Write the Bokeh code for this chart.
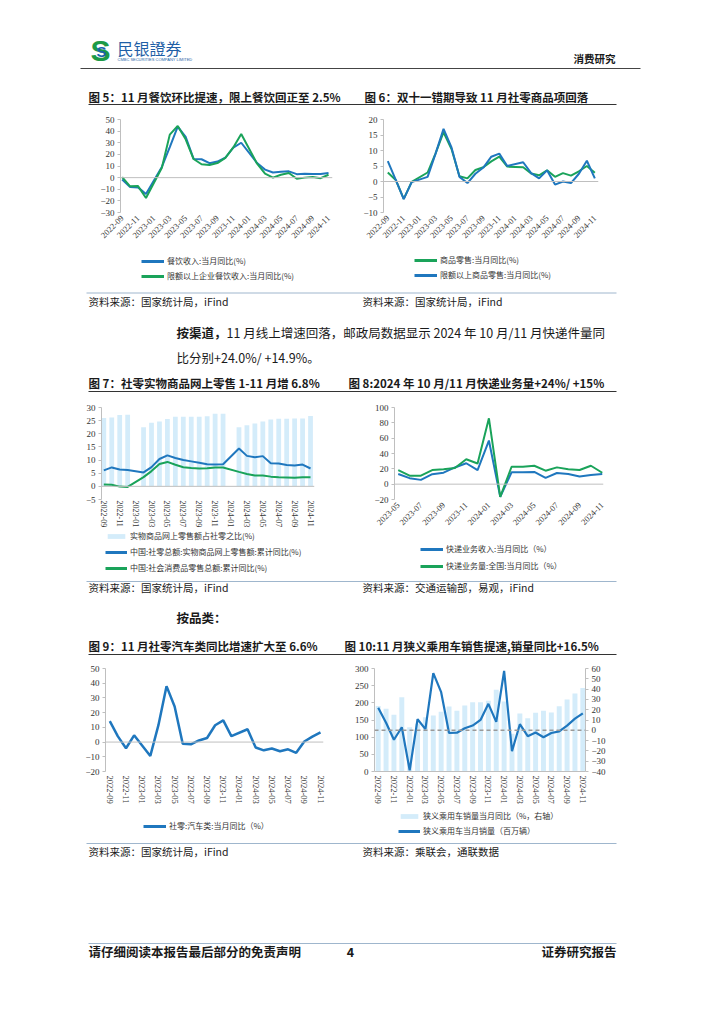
import math
from bokeh.plotting import figure
from bokeh.layouts import column, row
from bokeh.models import (Range1d, Label, Span, Legend, LegendItem, LinearAxis,
                          FixedTicker)
from bokeh.embed import file_html
from bokeh.resources import INLINE

CJK = "Noto Sans CJK SC"
SERIF = "Liberation Serif"
BLUE = "#1f77be"
GREEN = "#1aa35a"
BAR = "#d4ecfa"
AXIS = "#bfbfbf"
SEP = "#9fb6cd"

# ---------------- data ----------------
months27 = ["2022-09", "2022-10", "2022-11", "2022-12", "2023-01", "2023-02", "2023-03",
            "2023-04", "2023-05", "2023-06", "2023-07", "2023-08", "2023-09", "2023-10",
            "2023-11", "2023-12", "2024-01", "2024-02", "2024-03", "2024-04", "2024-05",
            "2024-06", "2024-07", "2024-08", "2024-09", "2024-10", "2024-11"]
months19 = ["2023-05", "2023-06", "2023-07", "2023-08", "2023-09", "2023-10", "2023-11",
            "2023-12", "2024-01", "2024-02", "2024-03", "2024-04", "2024-05", "2024-06",
            "2024-07", "2024-08", "2024-09", "2024-10", "2024-11"]

# Fig 5
catering_all = [-1.7, -8.1, -8.4, -14.1, None, 9.2, 26.3, 43.8, 35.1, 16.1, 15.8, 12.4, 13.8,
                17.1, 25.8, 30.0, None, 12.5, 6.9, 4.4, 5.0, 5.4, 3.0, 3.3, 3.1, 3.2, 4.0]
catering_above = [0.5, -7.5, -7.3, -17.5, None, 8.5, 37.0, 44.5, 33.0, 16.0, 11.5, 10.8, 12.5,
                  17.0, 26.0, 37.5, None, 12.0, 3.5, 0.0, 2.5, 4.0, -1.0, 0.0, 0.5, -0.5, 2.5]
# Fig 6
goods_retail = [2.9, 0.5, -5.6, -0.1, None, 2.9, 9.1, 15.9, 10.5, 1.7, 1.0, 3.7, 4.6, 6.5,
                8.0, 4.8, None, 4.6, 2.6, 2.0, 3.6, 1.5, 2.7, 1.9, 3.3, 5.0, 2.8]
goods_above = [6.6, 0.5, -5.7, -0.2, None, 1.5, 9.0, 17.0, 11.0, 1.5, -0.5, 2.5, 4.5, 8.0,
               9.0, 5.0, None, 6.2, 2.7, 1.0, 3.6, -1.0, 0.0, -0.5, 2.5, 6.7, 1.0]
# Fig 7
online_share = [26.0, 26.2, 27.1, 27.2, None, 22.5, 24.2, 24.7, 25.6, 26.5, 26.5, 26.5, 26.5,
                26.7, 27.6, 27.6, None, 22.5, 23.2, 23.9, 24.7, 25.4, 25.7, 25.7, 25.8, 25.8, 26.8]
online_growth = [6.1, 7.2, 6.4, 6.2, None, 5.3, 7.3, 10.4, 11.8, 10.8, 10.0, 9.5, 9.0, 8.4,
                 8.3, 8.4, None, 14.4, 11.6, 11.1, 11.5, 8.8, 8.7, 8.1, 7.9, 8.3, 6.8]
retail_cum = [0.7, 0.6, -0.1, -0.2, None, 3.5, 5.8, 8.5, 9.3, 8.2, 7.3, 7.0, 6.8, 6.9,
              7.2, 7.2, None, 5.5, 4.7, 4.1, 4.1, 3.7, 3.5, 3.4, 3.3, 3.5, 3.5]
# Fig 8
express_rev = [13.3, 7.8, 5.6, 13.0, 15.0, 21.8, 27.3, 18.4, 56.9, -16.6, 15.5, 15.5, 16.0,
               8.2, 14.6, 13.3, 9.9, 12.0, 13.3]
express_vol = [18.4, 11.1, 11.1, 18.4, 19.6, 21.0, 32.5, 27.0, 85.9, -16.6, 22.7, 22.7, 24.0,
               17.6, 21.9, 19.6, 18.4, 24.0, 14.9]
# Fig 9
auto_retail = [14.2, 3.9, -4.2, 4.6, None, -9.4, 11.5, 38.0, 24.2, -1.1, -1.5, 1.1, 2.8, 11.4,
               14.7, 4.0, None, 8.7, -3.7, -5.6, -4.4, -6.2, -4.9, -7.3, 0.4, 3.7, 6.6]
# Fig 10
pv_sales = [191, 183, 165, 216, 129, 139, 158, 163, 174, 189, 177, 192, 202, 202, 206, 238,
            204, 110, 169, 155, 171, 177, 172, 190, 210, 227, 243]
pv_yoy = [21.8, 7.3, -9.2, 3.0, -38.9, 10.7, 1.1, 55.5, 37.0, -2.6, -2.3, 2.0, 4.6, 10.1, 25.7,
          8.2, 57.6, -20.3, 5.9, -5.7, -2.1, -6.7, -2.6, -1.0, 4.5, 11.3, 16.5]


def valid(ys):
    xs = [i for i, v in enumerate(ys) if v is not None]
    return xs, [ys[i] for i in xs]


def style_y(ax, fs="9px"):
    ax.axis_line_color = AXIS
    ax.major_tick_line_color = AXIS
    ax.major_tick_out = 3
    ax.major_tick_in = 0
    ax.minor_tick_line_color = None
    ax.major_label_standoff = 3
    ax.major_label_text_font = SERIF
    ax.major_label_text_font_size = fs
    ax.major_label_text_color = "#333333"


def make_chart(W, H, bl, br, bt, bb, xr, yr, yticks, xlabels, orient, xstand=4,
               xfs="8.5px", step=2):
    p = figure(width=W, height=H, x_range=Range1d(*xr), y_range=Range1d(*yr),
               output_backend="svg", toolbar_location=None,
               min_border_left=bl, min_border_right=br, min_border_top=bt, min_border_bottom=bb)
    p.outline_line_color = None
    p.grid.visible = False
    p.border_fill_color = "white"
    yax = p.yaxis[0]
    yax.ticker = FixedTicker(ticks=yticks)
    style_y(yax)
    xticks = list(range(0, len(xlabels), step))
    xax = p.xaxis[0]
    xax.ticker = FixedTicker(ticks=xticks)
    xax.major_label_overrides = {t: xlabels[t] for t in xticks}
    xax.major_label_orientation = orient
    xax.axis_line_color = None
    xax.major_tick_line_color = None
    xax.major_tick_out = 0
    xax.major_tick_in = 0
    xax.minor_tick_line_color = None
    xax.major_label_standoff = xstand
    xax.major_label_text_font = SERIF
    xax.major_label_text_font_size = xfs
    xax.major_label_text_color = "#333333"
    return p


def zero(p, **kw):
    p.add_layout(Span(location=0, dimension="width", line_color=AXIS, line_width=1, **kw))


PAGE_W = 724


def textfig(top, H):
    p = figure(width=PAGE_W, height=H, x_range=Range1d(0, PAGE_W), y_range=Range1d(top + H, top),
               min_border=0, x_axis_location=None, y_axis_location=None,
               toolbar_location=None, output_backend="svg")
    p.grid.visible = False
    p.outline_line_color = None
    return p


def lab(p, x, y, text, size, bold=False, font=CJK, color="#1a1a1a", align="left"):
    p.add_layout(Label(x=x, y=y, text=text, text_font=font, text_font_size=f"{size}px",
                       text_font_style="bold" if bold else "normal", text_color=color,
                       text_align=align, text_baseline="middle"))


def hline(p, x0, x1, y, color, w=1):
    p.segment(x0=[x0], y0=[y], x1=[x1], y1=[y], line_color=color, line_width=w)


def legend(p, entries, x, y, spacing, gw=23, gh=10):
    """Legend keys mirror the styles of the chart series above (x, y in screen px).
    The key renderers hold one point parked off-canvas, so only their keys show."""
    items = []
    for label, kind, color in entries:
        if kind == "line":
            r = p.line(x=[-500, -499], y=[-500, -500], line_color=color, line_width=3)
        else:
            r = p.vbar(x=[-500], top=[-500], bottom=-501, width=1, fill_color=color,
                       line_color=None)
        items.append(LegendItem(label=label, renderers=[r], index=0))
    leg = Legend(items=items, location=(x, y), orientation="vertical", padding=0, margin=0,
                 spacing=spacing, glyph_width=gw, glyph_height=gh, label_height=10,
                 label_standoff=3, border_line_color=None, background_fill_alpha=0,
                 label_text_font=CJK, label_text_font_size="8px",
                 label_text_color="#333333")
    p.add_layout(leg)


LW, RW = 348, 376

# ---------------- header (page y 0..108) ----------------
hdr = textfig(0, 108)
lab(hdr, 100, 50, "S", 30, bold=True, font="Liberation Sans", color="#1d9a47", align="center")
lab(hdr, 101, 51, "S", 15, bold=True, font="Liberation Sans", color="#1a64ad", align="center")
lab(hdr, 117, 47, "民银證券", 16, font="Noto Sans CJK TC", color="#1f5fa6")
lab(hdr, 117, 59, "CMBC SECURITIES COMPANY LIMITED", 4, font="Liberation Sans", color="#1f5fa6")
lab(hdr, 615, 58, "消费研究", 10.5, bold=True, align="right")
hline(hdr, 80, 640, 68, "#444444", 1.2)
lab(hdr, 88, 96, "图 5：11 月餐饮环比提速，限上餐饮回正至 2.5%", 11.5, bold=True)
lab(hdr, 364, 96, "图 6：双十一错期导致 11 月社零商品项回落", 11.5, bold=True)
hline(hdr, 88, 616, 104, "#333333", 1)

# ---------------- row 5/6 (page y 108..250) ----------------
c5 = make_chart(LW, 142, 120, 16, 11, 38, (-0.21, 26.5), (-30, 50),
                list(range(-30, 51, 10)), months27, math.pi / 4)
zero(c5)
x, y = valid(catering_all)
c5.line(x, y, line_color=BLUE, line_width=2)
x, y = valid(catering_above)
c5.line(x, y, line_color=GREEN, line_width=2)

c6 = make_chart(RW, 142, 35, 126, 11, 38, (-0.54, 26.46), (-10, 20),
                list(range(-10, 21, 5)), months27, math.pi / 4)
zero(c6)
x, y = valid(goods_retail)
c6.line(x, y, line_color=GREEN, line_width=2)
x, y = valid(goods_above)
c6.line(x, y, line_color=BLUE, line_width=2)

# ---------------- text 1 (page y 250..400) ----------------
t1 = textfig(250, 150)
legend(t1, [("餐饮收入:当月同比(%)", "line", BLUE),
            ("限额以上企业餐饮收入:当月同比(%)", "line", GREEN)], 141, 119, 4)
legend(t1, [("商品零售:当月同比(%)", "line", GREEN),
            ("限额以上商品零售:当月同比(%)", "line", BLUE)], 414, 120, 4)
hline(t1, 86, 616, 292.5, SEP, 1)
lab(t1, 88, 301, "资料来源：国家统计局，iFind", 10.5)
lab(t1, 362, 301, "资料来源：国家统计局，iFind", 10.5)
lab(t1, 176, 332, "按渠道，", 12.5, bold=True)
lab(t1, 226, 332, "11 月线上增速回落，邮政局数据显示 2024 年 10 月/11 月快递件量同", 12.5)
lab(t1, 176, 357, "比分别+24.0%/ +14.9%。", 12.5)
lab(t1, 88, 382, "图 7：社零实物商品网上零售 1-11 月增 6.8%", 11.5, bold=True)
lab(t1, 348, 382, "图 8:2024 年 10 月/11 月快递业务量+24%/ +15%", 11.5, bold=True)
hline(t1, 88, 616, 391, "#333333", 1)

# ---------------- row 7/8 (page y 400..530) ----------------
c7 = make_chart(LW, 130, 101, 34, 5, 28, (-0.29, 26.5), (-5, 30),
                list(range(-5, 31, 5)), months27, "vertical", xstand=1, xfs="8px")
x, y = valid(online_share)
c7.vbar(x=x, top=y, bottom=0, width=0.6, fill_color=BAR, line_color=None)
zero(c7)
x, y = valid(online_growth)
c7.line(x, y, line_color=BLUE, line_width=2)
x, y = valid(retail_cum)
c7.line(x, y, line_color=GREEN, line_width=2)

c8 = make_chart(RW, 130, 46, 121, 7, 29, (-0.33, 18.11), (-20, 100),
                list(range(-20, 101, 20)), months19, math.pi / 4)
zero(c8)
c8.line(list(range(len(express_rev))), express_rev, line_color=BLUE, line_width=2)
c8.line(list(range(len(express_vol))), express_vol, line_color=GREEN, line_width=2)

# ---------------- text 2 (page y 530..662) ----------------
t2 = textfig(530, 132)
legend(t2, [("实物商品网上零售额占社零之比(%)", "bar", BAR),
            ("中国:社零总额:实物商品网上零售额:累计同比(%)", "line", BLUE),
            ("中国:社会消费品零售总额:累计同比(%)", "line", GREEN)], 105, 89, 5, gw=22, gh=6)
legend(t2, [("快递业务收入:当月同比（%）", "line", BLUE),
            ("快递业务量:全国:当月同比（%）", "line", GREEN)], 420, 91, 6)
hline(t2, 86, 616, 581, SEP, 1)
lab(t2, 88, 587, "资料来源：国家统计局，iFind", 10.5)
lab(t2, 362, 587, "资料来源：交通运输部，易观，iFind", 10.5)
lab(t2, 176, 617, "按品类：", 12.5, bold=True)
lab(t2, 88, 645, "图 9：11 月社零汽车类同比增速扩大至 6.6%", 11.5, bold=True)
lab(t2, 344, 645, "图 10:11 月狭义乘用车销售提速,销量同比+16.5%", 11.5, bold=True)
hline(t2, 88, 616, 654, "#333333", 1)

# ---------------- row 9/10 (page y 662..809) ----------------
c9 = make_chart(LW, 147, 105, 25, 6, 33, (-0.53, 26.37), (-20, 50),
                list(range(-20, 51, 10)), months27, "vertical")
zero(c9)
x, y = valid(auto_retail)
c9.line(x, y, line_color=BLUE, line_width=2.5)

c10 = make_chart(RW, 147, 26, 139, 4, 38, (-0.47, 26.34), (0, 300),
                 list(range(0, 301, 50)), months27, "vertical")
c10.xaxis[0].axis_line_color = AXIS
c10.extra_y_ranges = {"right": Range1d(-40, 60)}
rax = LinearAxis(y_range_name="right", ticker=FixedTicker(ticks=list(range(-40, 61, 10))))
style_y(rax)
c10.add_layout(rax, "right")
c10.vbar(x=list(range(len(pv_sales))), top=pv_sales, bottom=0, width=0.63,
         fill_color=BAR, line_color=None)
c10.add_layout(Span(location=0, dimension="width", line_color="#999999", line_width=1.5,
                    line_dash="4 3", y_range_name="right"))
c10.line(list(range(len(pv_yoy))), pv_yoy, line_color=BLUE, line_width=2.2,
         y_range_name="right")

# ---------------- text 3 (page y 809..1020) ----------------
t3 = textfig(809, 211)
legend(t3, [("社零:汽车类:当月同比（%）", "line", BLUE)], 143, 189, 4)
legend(t3, [("狭义乘用车销量当月同比（%，右轴）", "bar", BAR),
            ("狭义乘用车当月销量（百万辆）", "line", BLUE)], 398, 184, 4, gw=22, gh=6)
hline(t3, 86, 616, 843, SEP, 1)
lab(t3, 88, 851, "资料来源：国家统计局，iFind", 10.5)
lab(t3, 362, 851, "资料来源：乘联会，通联数据", 10.5)
hline(t3, 88, 616, 943, SEP, 1.2)
lab(t3, 88, 951, "请仔细阅读本报告最后部分的免责声明", 12.5, bold=True)
lab(t3, 350, 951, "4", 12.5, bold=True, align="center")
lab(t3, 616, 951, "证券研究报告", 12.5, bold=True, align="right")

page = column(hdr, row(c5, c6), t1, row(c7, c8), t2, row(c9, c10), t3)

open("out.html", "w").write(file_html(page, INLINE))
